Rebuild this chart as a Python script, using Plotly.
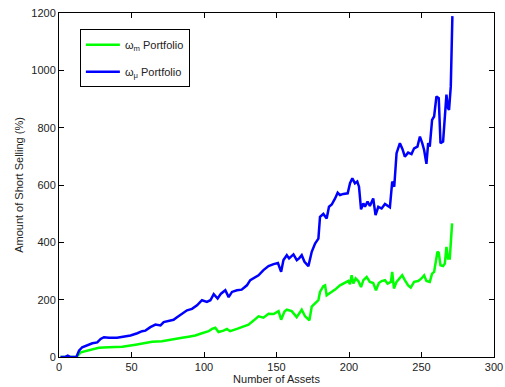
import plotly.graph_objects as go

# omega_m portfolio (green)
m_x = [1, 5, 8, 12, 15, 18.3, 23, 27.5, 34.4, 43.6, 52.8, 59.6, 64.2, 71, 78, 84.9, 89.4, 94,
       98.6, 103.2, 105.5, 107.8, 110, 113.5, 115.8, 118, 122.7, 127.3, 130.7, 134.2, 137.6,
       141, 144.5, 148, 151.4, 153.2, 155.5, 157.1, 160.5, 163.9, 167.4, 169.7, 172.7, 174.3,
       176.6, 178.9, 180, 182.3, 183.5, 184.6, 186.9, 190.4, 193.8, 197.2, 199.5, 200.7, 201.8,
       203, 204.6, 206.4, 208.3, 209.9, 212.2, 214.4, 216.7, 218.6, 220.6, 222.5, 224.8, 226.6,
       228.9, 229.8, 231, 232.8, 235.1, 236.7, 238.5, 240.8, 242.6, 244.9, 247.7, 250, 251.8,
       253.4, 255.7, 257.3, 258.7, 261, 261.9, 263.1, 264.9, 266.1, 267.2, 268.3, 269.5, 271.1]
m_y = [0, 0, 0, 0, 16, 20, 25, 32, 34, 36, 43, 48, 53, 55, 60, 67, 71, 75,
       83, 90, 98, 102, 87, 92, 98, 90, 98, 106, 113, 127, 142,
       137, 151, 150, 160, 130, 159, 165, 160, 139, 165, 142, 128, 176,
       188, 198, 227, 247, 250, 215, 223, 235, 250, 258, 265, 254, 285,
       256, 274, 265, 244, 268, 279, 262, 258, 233, 258, 265, 268, 256,
       262, 297, 239, 262, 274, 285, 268, 250, 242, 262, 265, 274, 285,
       265, 262, 291, 297, 367, 363, 320, 317, 326, 384, 344, 344, 466]

# omega_mu portfolio (blue)
u_x = [1, 4, 6, 8, 12, 13.8, 16, 19.5, 23, 26.4, 28.7, 31, 34.4, 40, 44.7, 49.3, 54, 57.3,
       59.6, 63, 66.5, 70, 72.2, 75.7, 79, 81.4, 85, 88.3, 91.7, 95.2, 98.6, 102, 104.4,
       106.7, 109.4, 111.7, 114.7, 117, 119.3, 122.7, 126, 129.6, 131.9, 135.3, 137.6, 141,
       144.5, 148, 151, 153.2, 154.8, 157.1, 158.7, 161.7, 164, 165.6, 167.4, 169.3, 172,
       174.3, 176.6, 178.9, 180, 182.3, 184.6, 186.2, 188.1, 190.4, 192.2, 193.8, 196.1,
       199.1, 200.7, 202.3, 204.1, 205.7, 206.9, 208.3, 209.9, 211, 212.8, 214.4, 216.7,
       218.3, 220.2, 222.5, 224.8, 228.2, 229.8, 231.2, 232.8, 235.1, 236.9, 238.5, 240.8,
       243.1, 244.9, 247.2, 248.9, 250.5, 251.8, 253.4, 254.6, 255.7, 257.3, 258.7, 260.3,
       261.9, 263.1, 264.9, 266.1, 267.2, 268.3, 269, 270.2, 271.3]
u_y = [0, 0, 5, 0, 0, 22, 34, 40, 48, 51, 63, 69, 67, 67, 71, 75, 83, 90,
       92, 104, 113, 110, 122, 127, 130, 139, 151, 163, 168, 180, 198, 192, 198,
       219, 204, 221, 233, 209, 227, 233, 235, 250, 268, 277, 285, 303,
       317, 324, 328, 297, 338, 355, 344, 358, 338, 344, 355, 332, 317,
       367, 396, 413, 489, 499, 483, 524, 532, 553, 573, 565, 569,
       571, 606, 623, 606, 612, 594, 515, 536, 524, 542, 527, 553,
       495, 524, 518, 534, 522, 612, 594, 711, 746, 725, 699, 713,
       708, 728, 734, 769, 746, 722, 674, 746, 734, 827, 839, 909,
       903, 746, 752, 827, 915, 868, 862, 944, 1189]

x_ticks = [0, 50, 100, 150, 200, 250, 300]
y_ticks = [0, 200, 400, 600, 800, 1000, 1200]

fig = go.Figure()
fig.add_trace(go.Scatter(x=m_x, y=m_y, mode="lines", name="ω<sub>m</sub> Portfolio",
                         legendgroup="m", line=dict(color="#00FF00", width=2.5)))
fig.add_trace(go.Scatter(x=u_x, y=u_y, mode="lines", name="ω<sub>μ</sub> Portfolio",
                         legendgroup="u", line=dict(color="#0000FF", width=2.5)))

axis_common = dict(showline=True, linecolor="black", linewidth=1, mirror="ticks",
                   ticks="inside", ticklen=5, tickcolor="black", showgrid=False,
                   zeroline=False, tickfont=dict(size=11, color="#222"))
fig.update_xaxes(range=[0, 300], tickvals=x_ticks,
                 title=dict(text="Number of Assets", font=dict(size=11, color="#222"), standoff=2),
                 **axis_common)
fig.update_yaxes(range=[0, 1200], tickvals=y_ticks,
                 title=dict(text="Amount of Short Selling (%)", font=dict(size=11, color="#222"), standoff=5),
                 **axis_common)

fig.update_layout(
    width=505, height=387,
    margin=dict(l=59, r=11, t=13, b=30, autoexpand=False),
    paper_bgcolor="white", plot_bgcolor="white",
    font=dict(family="Liberation Sans, Arial, sans-serif", size=11, color="#222"),
    legend=dict(x=0.048, y=0.953, xanchor="left", yanchor="top",
                bgcolor="white", bordercolor="black", borderwidth=1,
                font=dict(size=11), itemwidth=34, tracegroupgap=8,
                groupclick="toggleitem"),
)

fig.write_html("out.html", config={"displayModeBar": False},
               post_script="document.body.style.margin='0';document.body.style.padding='0';")
